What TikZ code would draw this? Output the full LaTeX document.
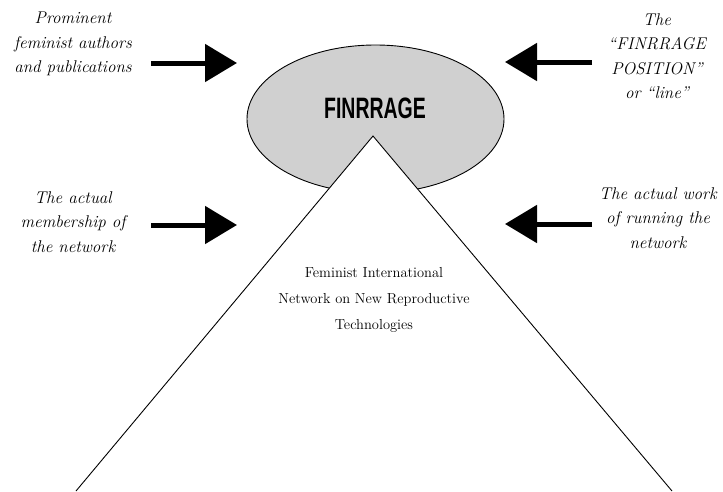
\documentclass[tikz,border=0pt]{standalone}
\usepackage{fontspec}
\newfontfamily\condfont[FakeStretch=0.66]{Liberation Sans}
\usetikzlibrary{arrows.meta,shapes.geometric}
\definecolor{ellgray}{HTML}{D0D0D0}
\begin{document}
\begin{tikzpicture}[x=1pt,y=-1pt,
  sidetext/.style={align=center,font=\fontsize{17}{24.5}\selectfont\itshape,inner sep=0pt},
  bigarrow/.style={line width=5pt,-{Triangle[length=32pt,width=37pt]}}]
\useasboundingbox (0,0) rectangle (723,491);
% ellipse
\node[ellipse,draw=black,line width=0.9pt,fill=ellgray,minimum width=257pt,minimum height=148pt,inner sep=0pt] (ell) at (375.5,119) {};
% triangle (no base)
\coordinate (apex) at (373,136);
\coordinate (bl) at (76,491);
\coordinate (br) at (672,491);
\fill[white] (apex) -- (bl) -- (br) -- cycle;
\draw[line width=0.9pt] (bl) -- (apex) -- (br);
\node[font=\condfont\bfseries\fontsize{29.5}{29.5}\selectfont,inner sep=0pt] (fin) at (375,108) {FINRRAGE};
\node[align=center,font=\fontsize{14.5}{26}\selectfont,inner sep=0pt] (net) at (374,300) {Feminist International\\Network on New Reproductive\\Technologies};
% side texts
\node[sidetext] (tl) at (73,44) {Prominent\\feminist authors\\and publications};
\node[sidetext] (tr) at (657,56) {The\\``FINRRAGE\\POSITION''\\or ``line''};
\node[sidetext] (bleft) at (73,222) {The actual\\membership of\\the network};
\node[sidetext] (bright) at (658,218) {The actual work\\of running the\\network};
% arrows
\coordinate (a1s) at (151,63); \coordinate (a1e) at (237,63);
\coordinate (a2s) at (592,62); \coordinate (a2e) at (505,62);
\coordinate (a3s) at (151,225); \coordinate (a3e) at (237,225);
\coordinate (a4s) at (592,224); \coordinate (a4e) at (505,224);
\draw[bigarrow] (a1s) -- (a1e);
\draw[bigarrow] (a2s) -- (a2e);
\draw[bigarrow] (a3s) -- (a3e);
\draw[bigarrow] (a4s) -- (a4e);
\end{tikzpicture}
\end{document}
